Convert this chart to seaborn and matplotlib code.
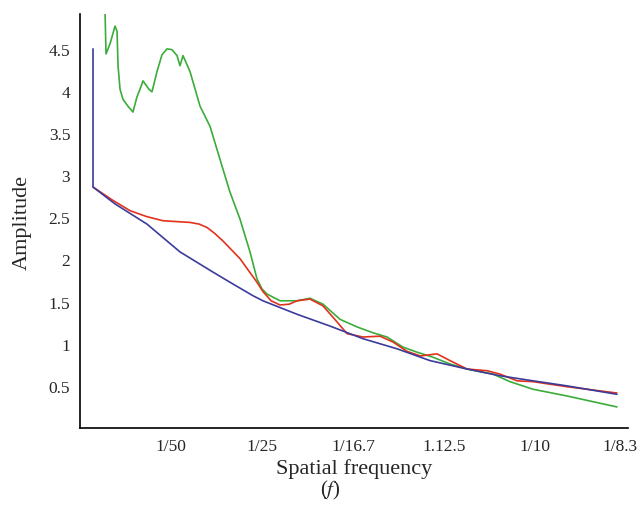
import matplotlib
matplotlib.use("Agg")
import matplotlib.pyplot as plt
import matplotlib.transforms as mtransforms
import seaborn as sns
import pandas as pd

# x positions are in tick-index units (0 = left edge, 1..6 = labelled ticks)
tick_labels = ['1/50', '1/25', '1/16.7', '1.12.5', '1/10', '1/8.3']
tick_pos = [1, 2, 3, 4, 5, 6]
ytick_vals = [0.5, 1, 1.5, 2, 2.5, 3, 3.5, 4, 4.5]
ytick_labels = ['0.5', '1', '1.5', '2', '2.5', '3', '3.5', '4', '4.5']

blue_x = [0.143, 0.143, 0.385, 0.736, 1.099, 1.462, 1.648, 1.901, 2.01, 2.385,
          2.747, 3.11, 3.484, 3.846, 4.253, 4.615, 4.978, 5.352, 5.90]
blue_y = [4.50, 2.86, 2.66, 2.42, 2.09, 1.85, 1.73, 1.57, 1.51, 1.35,
          1.21, 1.06, 0.94, 0.80, 0.70, 0.62, 0.56, 0.50, 0.40]

red_x = [0.143, 0.35, 0.549, 0.73, 0.912, 1.06, 1.209, 1.31, 1.396, 1.48,
         1.571, 1.758, 1.945, 2.01, 2.10, 2.198, 2.30, 2.385, 2.527, 2.670,
         2.824, 2.934, 3.11, 3.297, 3.44, 3.593, 3.74, 3.923, 4.066, 4.253,
         4.473, 4.615, 4.802, 4.978, 5.352, 5.90]
red_y = [2.86, 2.71, 2.58, 2.51, 2.46, 2.45, 2.44, 2.42, 2.38, 2.31,
         2.22, 2.01, 1.73, 1.62, 1.51, 1.46, 1.47, 1.51, 1.53, 1.45,
         1.26, 1.12, 1.08, 1.09, 1.02, 0.91, 0.855, 0.88, 0.80, 0.70,
         0.68, 0.64, 0.56, 0.55, 0.49, 0.415]

green_x = [0.275, 0.286, 0.33, 0.385, 0.407, 0.418, 0.44, 0.473, 0.527, 0.582,
           0.626, 0.659, 0.692, 0.758, 0.791, 0.846, 0.901, 0.956, 1.011, 1.066,
           1.099, 1.132, 1.209, 1.319, 1.429, 1.538, 1.648, 1.758, 1.868, 1.945,
           2.0, 2.055, 2.198, 2.385, 2.527, 2.670, 2.857, 3.044, 3.22, 3.374,
           3.549, 3.703, 3.879, 4.066, 4.253, 4.538, 4.725, 4.978, 5.352, 5.90]
green_y = [4.95, 4.44, 4.56, 4.77, 4.71, 4.30, 4.02, 3.90, 3.82, 3.75,
           3.93, 4.02, 4.12, 4.02, 3.99, 4.23, 4.43, 4.50, 4.49, 4.42,
           4.30, 4.42, 4.23, 3.82, 3.58, 3.19, 2.80, 2.48, 2.09, 1.77,
           1.65, 1.59, 1.51, 1.51, 1.54, 1.47, 1.29, 1.20, 1.13, 1.08,
           0.96, 0.90, 0.84, 0.76, 0.70, 0.64, 0.55, 0.46, 0.38, 0.25]

sns.set_style('white')
plt.rcParams['font.family'] = ['Liberation Serif', 'DejaVu Serif']
plt.rcParams['mathtext.fontset'] = 'stix'

fig = plt.figure(figsize=(6.41, 5.10), dpi=100)
ax = fig.add_axes([80 / 641, 81 / 510, 548 / 641, 414 / 510])

series = [(green_x, green_y, '#3aac3a'), (red_x, red_y, '#e2321c'), (blue_x, blue_y, '#3b3b9c')]
for xs, ys, col in series:
    df = pd.DataFrame({'x': xs, 'y': ys})
    sns.lineplot(data=df, x='x', y='y', ax=ax, color=col, linewidth=1.2,
                 sort=False, estimator=None)

ax.set_xlim(0, 548 / 91)
ax.set_ylim(0, 414 / 84.25)

ax.set_xticks(tick_pos)
ax.set_xticklabels(tick_labels, fontsize=12.5)
ax.set_yticks(ytick_vals)
ax.set_yticklabels(ytick_labels, fontsize=12.5)
ax.tick_params(axis='both', length=0, pad=7)

# last x label sits a little left so it stays inside the figure
shift = mtransforms.ScaledTranslation(-6 / 100, 0, fig.dpi_scale_trans)
last = ax.get_xticklabels()[-1]
last.set_transform(last.get_transform() + shift)

# small tick marks drawn where the original has them
ax.set_xticks([1, 2, 3, 5], minor=True)
ax.set_yticks([0.9, 1.8, 4.5], minor=True)
ax.tick_params(axis='both', which='minor', direction='in', length=4, width=1, color='black')

for s in ['top', 'right']:
    ax.spines[s].set_visible(False)
for s in ['left', 'bottom']:
    ax.spines[s].set_color('black')
    ax.spines[s].set_linewidth(1.2)

ax.set_xlabel('')
ax.set_ylabel('')
fig.text(22 / 641, 1 - 222 / 510, 'Amplitude', rotation=90, fontsize=16,
         ha='center', va='center')
fig.text(354 / 641, 1 - 469 / 510, 'Spatial frequency', fontsize=16,
         ha='center', va='center')
fig.text(330 / 641, 1 - 490 / 510, '($f$)', fontsize=15, ha='center', va='center')

fig.savefig('out.png', dpi=100)
